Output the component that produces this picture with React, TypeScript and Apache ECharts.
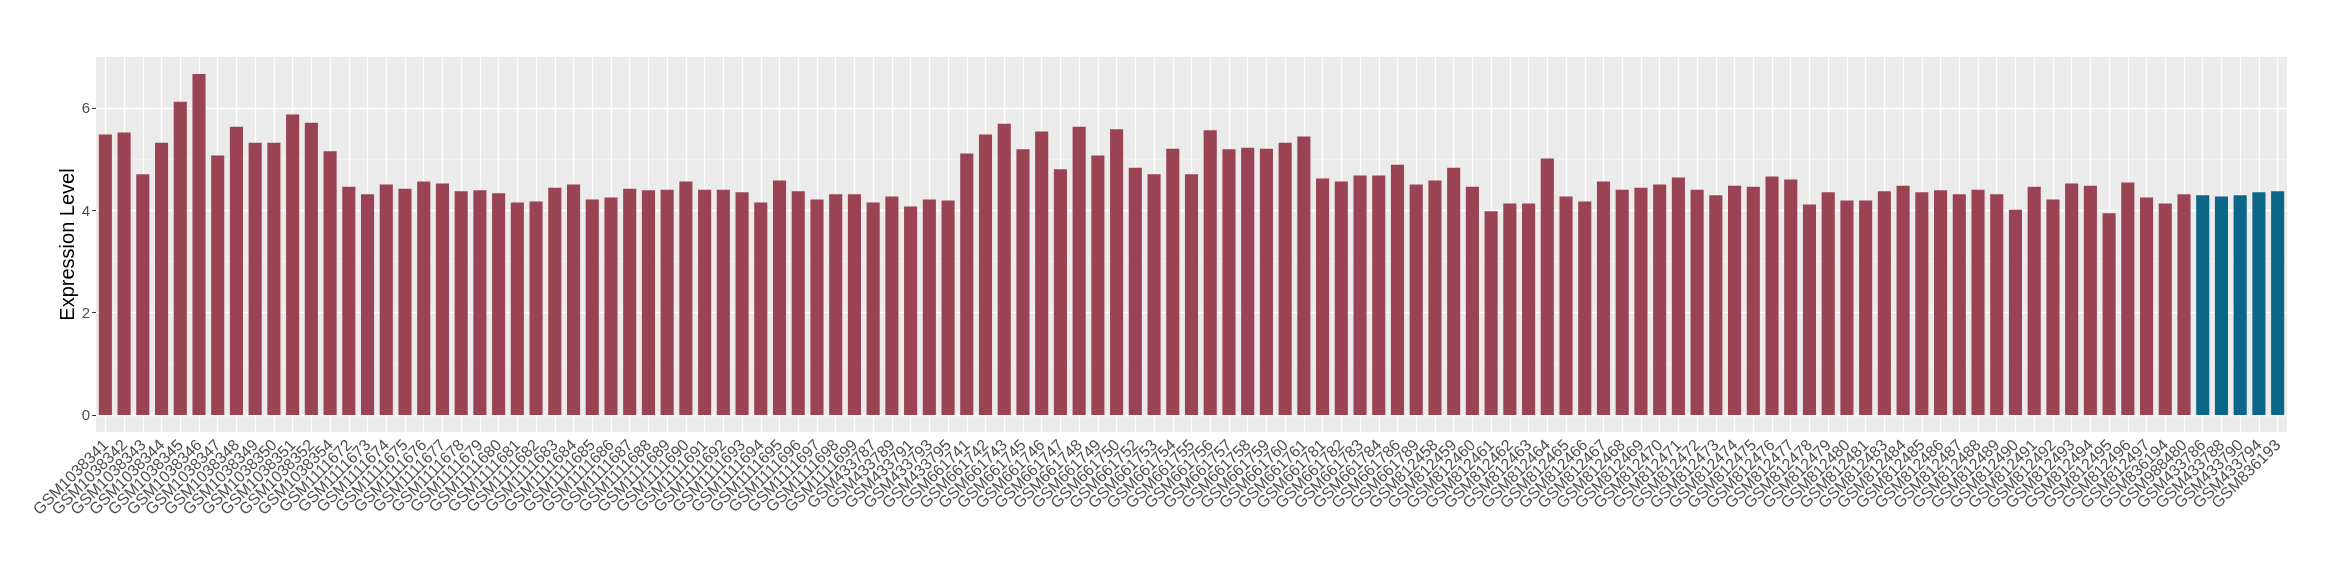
import React, { useEffect, useRef } from "react";
import * as echarts from "echarts";

const categories: string[] = [
  "GSM1038341", "GSM1038342", "GSM1038343", "GSM1038344", "GSM1038345", "GSM1038346", "GSM1038347", "GSM1038348",
  "GSM1038349", "GSM1038350", "GSM1038351", "GSM1038352", "GSM1038354", "GSM1111672", "GSM1111673", "GSM1111674",
  "GSM1111675", "GSM1111676", "GSM1111677", "GSM1111678", "GSM1111679", "GSM1111680", "GSM1111681", "GSM1111682",
  "GSM1111683", "GSM1111684", "GSM1111685", "GSM1111686", "GSM1111687", "GSM1111688", "GSM1111689", "GSM1111690",
  "GSM1111691", "GSM1111692", "GSM1111693", "GSM1111694", "GSM1111695", "GSM1111696", "GSM1111697", "GSM1111698",
  "GSM1111699", "GSM433787", "GSM433789", "GSM433791", "GSM433793", "GSM433795", "GSM661741", "GSM661742",
  "GSM661743", "GSM661745", "GSM661746", "GSM661747", "GSM661748", "GSM661749", "GSM661750", "GSM661752",
  "GSM661753", "GSM661754", "GSM661755", "GSM661756", "GSM661757", "GSM661758", "GSM661759", "GSM661760",
  "GSM661761", "GSM661781", "GSM661782", "GSM661783", "GSM661784", "GSM661786", "GSM661789", "GSM812458",
  "GSM812459", "GSM812460", "GSM812461", "GSM812462", "GSM812463", "GSM812464", "GSM812465", "GSM812466",
  "GSM812467", "GSM812468", "GSM812469", "GSM812470", "GSM812471", "GSM812472", "GSM812473", "GSM812474",
  "GSM812475", "GSM812476", "GSM812477", "GSM812478", "GSM812479", "GSM812480", "GSM812481", "GSM812483",
  "GSM812484", "GSM812485", "GSM812486", "GSM812487", "GSM812488", "GSM812489", "GSM812490", "GSM812491",
  "GSM812492", "GSM812493", "GSM812494", "GSM812495", "GSM812496", "GSM812497", "GSM836194", "GSM988480",
  "GSM433786", "GSM433788", "GSM433790", "GSM433794", "GSM836193",
];

const values: number[] = [
  5.48, 5.52, 4.70, 5.32, 6.12, 6.66, 5.07, 5.63, 5.32, 5.32, 5.87, 5.71, 5.15, 4.46, 4.31, 4.50,
  4.42, 4.56, 4.52, 4.37, 4.39, 4.33, 4.15, 4.17, 4.44, 4.50, 4.21, 4.25, 4.42, 4.39, 4.40, 4.56,
  4.40, 4.40, 4.35, 4.15, 4.58, 4.37, 4.21, 4.31, 4.31, 4.15, 4.27, 4.07, 4.21, 4.19, 5.11, 5.48,
  5.69, 5.19, 5.54, 4.80, 5.63, 5.07, 5.58, 4.83, 4.70, 5.20, 4.70, 5.56, 5.19, 5.22, 5.20, 5.32,
  5.44, 4.62, 4.56, 4.68, 4.68, 4.89, 4.50, 4.58, 4.83, 4.46, 3.98, 4.13, 4.13, 5.01, 4.27, 4.17,
  4.56, 4.40, 4.44, 4.50, 4.64, 4.40, 4.29, 4.48, 4.46, 4.66, 4.60, 4.11, 4.35, 4.19, 4.19, 4.37,
  4.48, 4.35, 4.39, 4.31, 4.40, 4.31, 4.01, 4.46, 4.21, 4.52, 4.48, 3.94, 4.54, 4.25, 4.13, 4.31,
  4.29, 4.27, 4.29, 4.35, 4.37,
];

// sample group: last five samples form the second group
const groups: string[] = categories.map((_, i) => (i < 112 ? "A" : "B"));

const yMajorTicks: number[] = [0, 2, 4, 6];
const yMinorTicks: number[] = [1, 3, 5];

const groupColors: Record<string, string> = { A: "#9A4352", B: "#0B6687" };

export default function App() {
  const ref = useRef<HTMLDivElement>(null);
  useEffect(() => {
    if (!ref.current) return;
    const chart = echarts.init(ref.current, null, { renderer: "svg" });
    const font = "Liberation Sans, Arial, sans-serif";
    const gridLines: any[] = [
      ...yMinorTicks.map((v) => ({ yAxis: v, lineStyle: { color: "#F5F5F5", width: 0.7, type: "solid" } })),
      ...yMajorTicks.map((v) => ({ yAxis: v, lineStyle: { color: "#FFFFFF", width: 1.3, type: "solid" } })),
      ...categories.map((c) => ({ xAxis: c, lineStyle: { color: "#FFFFFF", width: 1.3, type: "solid" } })),
    ];
    chart.setOption({
      animation: false,
      textStyle: { fontFamily: font },
      grid: {
        left: 96,
        right: 53,
        top: 57,
        bottom: 148,
        show: true,
        backgroundColor: "#EBEBEB",
        borderWidth: 0,
      },
      xAxis: {
        type: "category",
        data: categories,
        axisLine: { show: false },
        axisTick: { show: true, alignWithLabel: true, length: 4, lineStyle: { color: "#333333", width: 1 } },
        axisLabel: {
          interval: 0,
          rotate: 45,
          color: "#4D4D4D",
          fontSize: 16,
          margin: 10,
          fontFamily: font,
        },
        splitLine: { show: false },
      },
      yAxis: {
        type: "value",
        min: -0.333,
        max: 6.993,
        name: "Expression Level",
        nameLocation: "middle",
        nameGap: 19,
        nameMoveOverlap: false,
        nameTextStyle: { fontSize: 20, color: "#000000", fontFamily: font },
        axisLine: { show: false },
        axisTick: { show: true, length: 4, customValues: yMajorTicks, lineStyle: { color: "#333333", width: 1 } },
        axisLabel: {
          customValues: yMajorTicks,
          color: "#4D4D4D",
          fontSize: 15,
          margin: 6,
          fontFamily: font,
        },
        splitLine: { show: false },
      },
      series: [
        {
          type: "bar",
          data: values,
          barWidth: "70%",
          z: 2,
          itemStyle: {
            color: (p: any) => groupColors[groups[p.dataIndex]],
          },
          markLine: {
            silent: true,
            z: 1,
            symbol: "none",
            label: { show: false },
            emphasis: { disabled: true },
            data: gridLines,
          },
        },
      ],
    });
    return () => chart.dispose();
  }, []);
  return <div ref={ref} style={{ position: "fixed", left: 0, top: 0, width: 2340, height: 580 }} />;
}
